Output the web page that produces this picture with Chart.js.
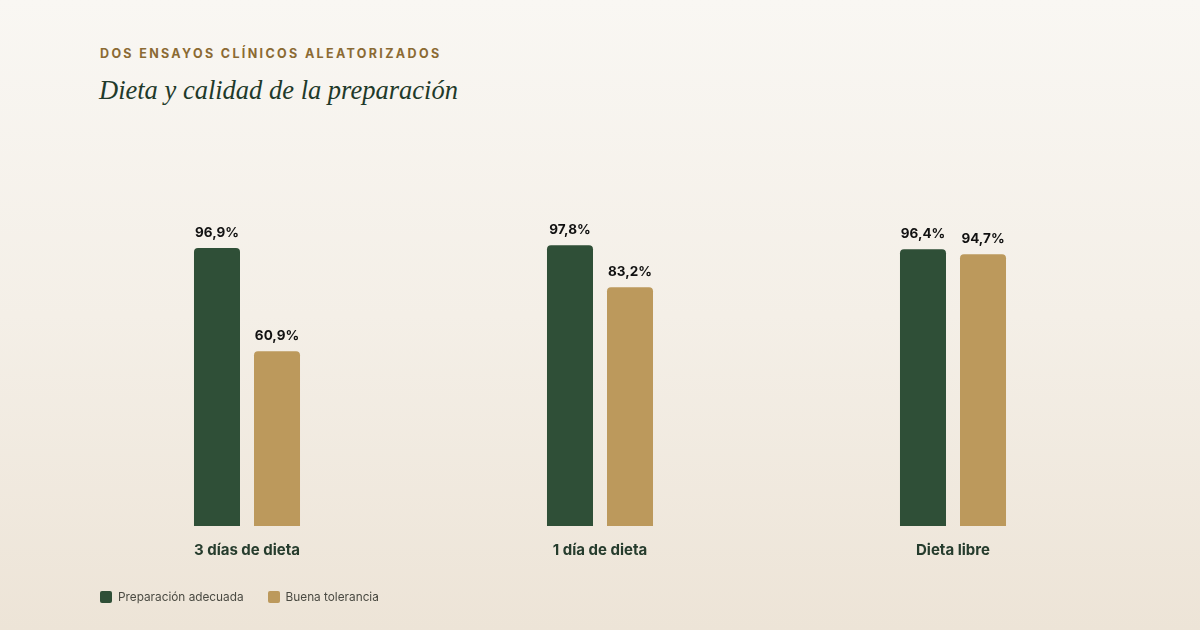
<!DOCTYPE html>
<html lang="es">
<head>
<meta charset="utf-8">
<title>Dieta y calidad de la preparación</title>
<script src="https://cdn.jsdelivr.net/npm/chart.js@4.4.1/dist/chart.umd.min.js"></script>
<style>
  html, body {
    margin: 0;
    padding: 0;
    width: 1200px;
    height: 630px;
    overflow: hidden;
  }
  body {
    background: linear-gradient(to bottom, #f9f7f3 0%, #f4efe7 50%, #ede4d7 100%);
    font-family: Inter, "Noto Sans", sans-serif;
    position: relative;
  }
  .eyebrow {
    position: absolute;
    left: 100px;
    top: 46px;
    font-size: 12.5px;
    font-weight: 700;
    letter-spacing: 2.35px;
    color: #8b6a33;
  }
  .title {
    position: absolute;
    left: 99px;
    top: 75px;
    font-family: "Liberation Serif", "DejaVu Serif", serif;
    font-style: italic;
    font-size: 26.5px;
    color: #1f3a2a;
  }
  #wrap {
    position: absolute;
    left: 0;
    top: 0;
    width: 1200px;
    height: 630px;
  }
  .legend {
    position: absolute;
    left: 100px;
    top: 590px;
    display: flex;
    gap: 24px;
    font-size: 11.8px;
    color: #4a4a42;
  }
  .legend span.item {
    display: flex;
    align-items: center;
  }
  .legend i {
    display: inline-block;
    width: 12px;
    height: 12px;
    border-radius: 2px;
    margin-right: 6px;
  }
</style>
</head>
<body>
<div class="eyebrow">DOS ENSAYOS CLÍNICOS ALEATORIZADOS</div>
<div class="title">Dieta y calidad de la preparación</div>
<div id="wrap"><canvas id="chart" width="1200" height="630"></canvas></div>
<div class="legend" id="legend"></div>

<script>
// chart data
const categories = ["3 días de dieta", "1 día de dieta", "Dieta libre"];
const seriesNames = ["Preparación adecuada", "Buena tolerancia"];
const preparacion = [96.9, 97.8, 96.4];
const tolerancia = [60.9, 83.2, 94.7];

const GREEN = "#2f4f37";
const GOLD = "#bc995c";

// legend in html
const legendEl = document.getElementById("legend");
[GREEN, GOLD].forEach((c, i) => {
  const item = document.createElement("span");
  item.className = "item";
  item.innerHTML = `<i style="background:${c}"></i>${seriesNames[i]}`;
  legendEl.appendChild(item);
});

// value labels above bars
const valueLabels = {
  id: "valueLabels",
  afterDatasetsDraw(chart) {
    const ctx = chart.ctx;
    ctx.save();
    ctx.font = "700 13.5px Inter, sans-serif";
    ctx.fillStyle = "#111111";
    ctx.textAlign = "center";
    ctx.textBaseline = "middle";
    chart.data.datasets.forEach((ds, di) => {
      chart.getDatasetMeta(di).data.forEach((bar, i) => {
        const txt = ds.data[i].toFixed(1).replace(".", ",") + "%";
        ctx.fillText(txt, bar.x, bar.y - 15);
      });
    });
    ctx.restore();
  }
};

const barRadius = { topLeft: 4, topRight: 4, bottomLeft: 0, bottomRight: 0 };

new Chart(document.getElementById("chart").getContext("2d"), {
  type: "bar",
  data: {
    labels: categories,
    datasets: [
      { label: seriesNames[0], data: preparacion, backgroundColor: GREEN, borderRadius: barRadius, borderSkipped: "bottom" },
      { label: seriesNames[1], data: tolerancia, backgroundColor: GOLD, borderRadius: barRadius, borderSkipped: "bottom" }
    ]
  },
  options: {
    responsive: false,
    animation: false,
    devicePixelRatio: 1,
    categoryPercentage: 0.34,
    barPercentage: 0.7667,
    layout: { padding: { left: 70.5, right: 70.5, top: 239, bottom: 56 } },
    plugins: {
      legend: { display: false },
      tooltip: { enabled: false }
    },
    scales: {
      x: {
        grid: { display: false, drawTicks: false },
        border: { display: false },
        ticks: {
          padding: 15,
          color: "#263c2d",
          font: { family: "Inter", size: 15, weight: "700" }
        }
      },
      y: {
        display: false,
        min: 0,
        max: 100
      }
    }
  },
  plugins: [valueLabels]
});
</script>
</body>
</html>
